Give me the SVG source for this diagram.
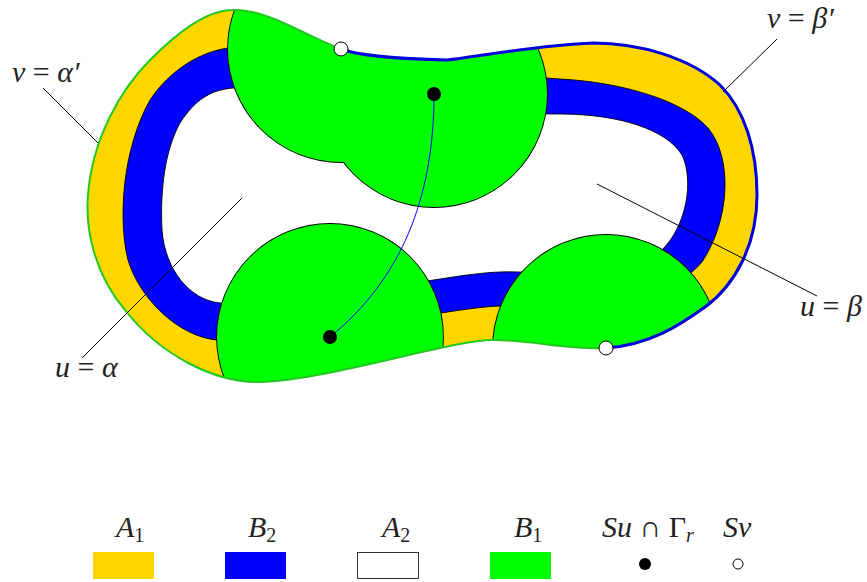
<svg xmlns="http://www.w3.org/2000/svg" width="867" height="582" viewBox="0 0 867 582">
<style>
.t{font-family:"Liberation Serif","DejaVu Serif",serif;font-style:italic;font-size:30px;fill:#222}
.up{font-style:normal}
.sub{font-size:20px}
.lead{fill:none;stroke:#000;stroke-width:1}
.disc{fill:#00ff00}
.discS{fill:none;stroke:#000;stroke-width:1.8}
</style>
<defs>
<path id="outer" d="M233,10 C265,8 310,38 341,49 C360,56 400,59 447,60 C480,56 540,45 593,43 C640,43 690,58 720,85 C745,110 757,150 757,195 C757,245 735,285 705,307 C680,325 650,345 606,348 C570,350 530,340 493,340 C450,340 330,380 260,382 C215,383 160,355 125,310 C95,275 85,230 88,195 C92,140 120,90 150,60 C175,35 205,10 233,10 Z"/>
<clipPath id="clipOuter"><use href="#outer"/></clipPath>
</defs>
<g id="annulus">
<use href="#outer" fill="#ffd700"/>
<path id="blueband" d="M228,48 C330,40 480,75 560,79 C620,82 683,100 708,128 C733,158 730,220 702,262 C662,310 560,305 500,306 C440,308 300,345 217,340 C180,337 140,300 128,260 C118,220 122,150 150,100 C170,70 200,52 228,48 Z" fill="#0000ff" stroke="#000" stroke-width="0.9"/>
<path id="hole" d="M233,88 C330,88 470,115 560,114 C620,114 667,130 682,155 C694,180 687,225 662,250 C622,290 560,270 500,272 C440,274 300,310 220,303 C190,300 165,270 162,230 C160,190 165,150 180,123 C195,100 210,90 233,88 Z" fill="#fff" stroke="#000" stroke-width="0.9"/>
</g>
<g id="discs" clip-path="url(#clipOuter)">
<circle class="discS" cx="341" cy="49" r="113"/>
<circle class="discS" cx="434" cy="94" r="113"/>
<circle class="discS" cx="330" cy="337" r="113"/>
<circle class="discS" cx="606" cy="348" r="113"/>
<circle class="disc" cx="341" cy="49" r="113"/>
<circle class="disc" cx="434" cy="94" r="113"/>
<circle class="disc" cx="330" cy="337" r="113"/>
<circle class="disc" cx="606" cy="348" r="113"/>
</g>
<g id="boundary">
<path d="M606,348 C570,350 530,340 493,340 C450,340 330,380 260,382 C215,383 160,355 125,310 C95,275 85,230 88,195 C92,140 120,90 150,60 C175,35 205,10 233,10 C265,8 310,38 341,49" fill="none" stroke="#22c822" stroke-width="2"/>
<path d="M341,49 C360,56 400,59 447,60 C480,56 540,45 593,43 C640,43 690,58 720,85 C745,110 757,150 757,195 C757,245 735,285 705,307 C680,325 650,345 606,348" fill="none" stroke="#0000dd" stroke-width="3"/>
</g>
<g id="connectors">
<path d="M434,94 C434,200 400,280 330,337" fill="none" stroke="#0000ff" stroke-width="1"/>
<line class="lead" x1="43" y1="88" x2="98" y2="143"/>
<line class="lead" x1="777" y1="39" x2="723" y2="92"/>
<line class="lead" x1="597" y1="184" x2="817" y2="296"/>
<line class="lead" x1="242" y1="198" x2="82" y2="358"/>
</g>
<g id="points">
<circle cx="434" cy="94" r="7" fill="#000"/>
<circle cx="330" cy="337" r="7" fill="#000"/>
<circle cx="341" cy="49" r="7" fill="#fff" stroke="#000" stroke-width="1"/>
<circle cx="606" cy="348" r="7" fill="#fff" stroke="#000" stroke-width="1"/>
</g>
<g id="labels">
<text class="t" x="12" y="82">v<tspan class="up"> = </tspan>α′</text>
<text class="t" x="767" y="28">v<tspan class="up"> = </tspan>β′</text>
<text class="t" x="800" y="316">u<tspan class="up"> = </tspan>β</text>
<text class="t" x="55" y="377">u<tspan class="up"> = </tspan>α</text>
</g>
<g id="legend">
<g id="leg-A1"><text class="t" x="116" y="537">A<tspan class="up sub" dy="5">1</tspan></text><rect x="93" y="552" width="61" height="27" fill="#ffd700"/></g>
<g id="leg-B2"><text class="t" x="248" y="537">B<tspan class="up sub" dy="5">2</tspan></text><rect x="225" y="552" width="61" height="27" fill="#0000ff"/></g>
<g id="leg-A2"><text class="t" x="382" y="537">A<tspan class="up sub" dy="5">2</tspan></text><rect x="357.5" y="552.5" width="61" height="26" fill="#fff" stroke="#333" stroke-width="1"/></g>
<g id="leg-B1"><text class="t" x="514" y="537">B<tspan class="up sub" dy="5">1</tspan></text><rect x="490" y="552" width="61" height="27" fill="#00ff00"/></g>
<g id="leg-Su"><text class="t" x="602" y="537">Su <tspan class="up">∩ Γ</tspan><tspan class="sub" dy="5">r</tspan></text><circle cx="645" cy="564" r="6" fill="#000"/></g>
<g id="leg-Sv"><text class="t" x="723" y="537">Sv</text><circle cx="738" cy="564" r="5" fill="#fff" stroke="#000" stroke-width="1"/></g>
</g>
</svg>
